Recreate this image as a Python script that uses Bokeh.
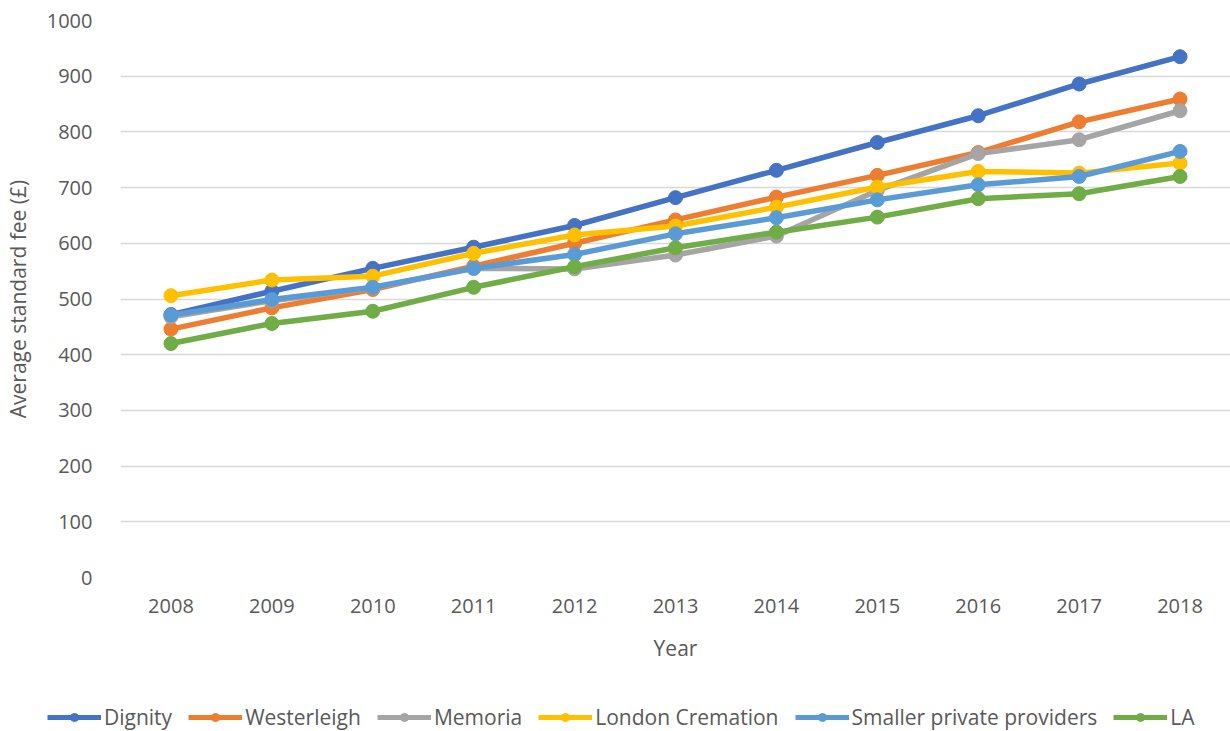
from bokeh.plotting import figure
from bokeh.models import Legend, LegendItem, FactorRange, Range1d, FixedTicker
from bokeh.embed import file_html
from bokeh.resources import INLINE

years = ["2008", "2009", "2010", "2011", "2012", "2013", "2014", "2015", "2016", "2017", "2018"]
dignity = [472, 514, 555, 593, 632, 682, 731, 781, 829, 886, 935]
westerleigh = [446, 484, 517, 559, 600, 642, 683, 722, 763, 818, 859]
memoria = [468, 497, 520, 555, 554, 579, 613, 695, 761, 786, 838]
london = [506, 534, 541, 582, 615, 631, 665, 701, 729, 726, 744]
smaller = [471, 499, 521, 555, 580, 617, 646, 678, 705, 720, 765]
la = [420, 456, 478, 521, 558, 592, 620, 647, 680, 689, 720]
y_ticks = [0, 100, 200, 300, 400, 500, 600, 700, 800, 900, 1000]

series = [
    ("Dignity", dignity, "#4472C4"),
    ("Westerleigh", westerleigh, "#ED7D31"),
    ("Memoria", memoria, "#A5A5A5"),
    ("London Cremation", london, "#FFC000"),
    ("Smaller private providers", smaller, "#5B9BD5"),
    ("LA", la, "#70AD47"),
]

FONT = "Open Sans"
TXT = "#595959"

p = figure(width=1230, height=665, x_range=FactorRange(factors=years, range_padding=0),
           y_range=Range1d(0, 1000), output_backend="svg", toolbar_location=None,
           min_border_left=116, min_border_right=0, min_border_top=20, min_border_bottom=88)
p.outline_line_color = None
p.background_fill_color = "white"
p.border_fill_color = "white"

p.xgrid.grid_line_color = None
p.ygrid.grid_line_color = "#d9d9d9"
p.ygrid.grid_line_width = 1.6
p.yaxis.ticker = FixedTicker(ticks=y_ticks)

for ax in (p.xaxis[0], p.yaxis[0]):
    ax.axis_line_color = None
    ax.major_tick_line_color = None
    ax.minor_tick_line_color = None
    ax.major_label_text_font = FONT
    ax.major_label_text_font_size = "20px"
    ax.major_label_text_color = TXT
    ax.axis_label_text_font = FONT
    ax.axis_label_text_font_size = "21px"
    ax.axis_label_text_font_style = "normal"
    ax.axis_label_text_color = TXT

p.yaxis.axis_label = "Average standard fee (£)"
p.xaxis.axis_label = "Year"
p.yaxis.major_label_standoff = 22
p.xaxis.major_label_standoff = 15
p.xaxis.axis_label_standoff = 18
p.yaxis.axis_label_standoff = 12

for name, vals, col in series:
    p.line(years, vals, line_color=col, line_width=5.5)
    p.scatter(years, vals, size=14, fill_color=col, line_color=col)

# legend strip below the chart (series drawn out of view, used only for the key)
lg = figure(width=1230, height=66, x_range=FactorRange(factors=years, range_padding=0),
            y_range=Range1d(2000, 3000), x_axis_type=None, y_axis_type=None,
            output_backend="svg", toolbar_location=None,
            min_border_left=0, min_border_right=0, min_border_top=0, min_border_bottom=0)
lg.outline_line_color = None
lg.xgrid.grid_line_color = None
lg.ygrid.grid_line_color = None
items = []
for name, vals, col in series:
    r1 = lg.line(years, vals, line_color=col, line_width=5)
    r2 = lg.scatter(years, vals, size=10, fill_color=col, line_color=col)
    items.append(LegendItem(label=name, renderers=[r1, r2]))

legend = Legend(items=items, orientation="horizontal", location=(47, 0),
                label_text_font=FONT, label_text_font_size="21px", label_text_color=TXT,
                glyph_width=54, glyph_height=20, label_standoff=3, spacing=16,
                border_line_color=None, background_fill_alpha=0, margin=0, padding=0)
lg.add_layout(legend)

open("out.html", "w").write(file_html([p, lg], INLINE))
